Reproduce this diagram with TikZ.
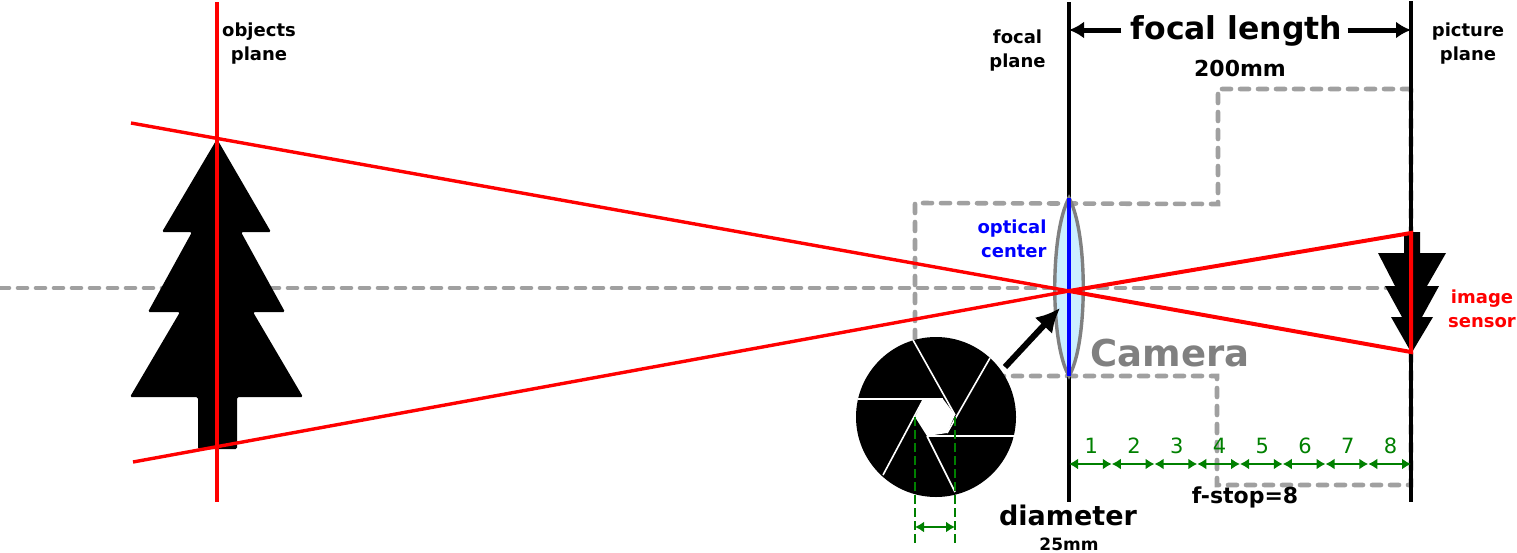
\documentclass[tikz,border=0pt]{standalone}
\usepackage{fontspec}
\setmainfont{DejaVu Sans}
\usetikzlibrary{arrows.meta}
\definecolor{dashgray}{HTML}{A0A0A0}
\definecolor{lensblue}{HTML}{CCEEFF}
\definecolor{scalegreen}{HTML}{008000}
\tikzset{
  lbl/.style={align=center, inner sep=0, font=\fontsize{#1}{24}\selectfont\bfseries},
  camerapath/.style={draw=dashgray, line width=4.6pt, dash pattern=on 9pt off 9pt, line cap=round},
  planeline/.style={draw=black, line width=3.2pt},
  redray/.style={draw=red, line width=3.4pt},
  greenline/.style={draw=scalegreen, line width=2.2pt},
  greentips/.style={{Latex[length=9pt,width=11pt]}-{Latex[length=9pt,width=11pt]}},
  bigtip/.style={-{Latex[length=15pt,width=17pt]}, line width=5pt},
}
\begin{document}
\begin{tikzpicture}[x=1pt,y=-1pt]
\useasboundingbox (0,0) rectangle (1517,552);
% camera outline and axis
\draw[camerapath](0,288)--(1411,288);
\draw[camerapath](1411,89)--(1218,89)--(1218,204)--(915,203)--(915,376)--(1217,376)--(1217,485)--(1411,485)--cycle;
% tree
\fill[rounded corners=1.5pt](217,139)--(271,232)--(241,232)--(285,312)--(253,312)--(303,397)--(237,397)--(237,449)--(198,449)--(198,397)--(130,397)--(180,312)--(148,312)--(192,232)--(162,232)--cycle;
% small tree on the sensor
\fill(1404,232)--(1420,232)--(1420,253)--(1446,253)--(1427,286)--(1439,286)--(1422,317)--(1433,317)--(1411.5,353)--(1391,317)--(1402,317)--(1385,286)--(1395,286)--(1378,253)--(1404,253)--cycle;
% planes
\coordinate(OT)at(217,2);\coordinate(OB)at(217,502);
\coordinate(FT)at(1069,2);\coordinate(FB)at(1069,502);
\coordinate(PT)at(1411,1);\coordinate(PB)at(1411,502);
\draw[planeline](FT)--(FB);
\draw[planeline](PT)--(PB);
\draw[red,line width=3.2pt](OT)--(OB);
% lens
\filldraw[fill=lensblue,draw=gray,line width=3.4pt](1069,198)..controls(1050,232)and(1050,344)..(1069,376)..controls(1088,344)and(1088,232)..(1069,198)--cycle;
\draw[blue,line width=3.4pt](1069,198)--(1069,376);
% rays
\coordinate(C)at(1069,291);
\coordinate(A1)at(131,123);\coordinate(A2)at(1411,352);
\coordinate(B1)at(133,462);\coordinate(B2)at(1411,233);
\draw[redray](A1)--(C);
\draw[redray](B1)--(C);
\draw[redray,line width=4pt](C)--(A2)--(B2)--(C);
% shutter
\fill(936,417)circle(80);
\fill[white](923,400)--(943,399)--(955,415)--(947,433)--(927,436)--(915,417)--cycle;
\draw[white,line width=1.6pt](913,340)--(955,415);
\draw[white,line width=1.6pt](990,358)--(947,433);
\draw[white,line width=1.6pt](1015,436)--(927,436);
\draw[white,line width=1.6pt](955,492)--(927,436);
\draw[white,line width=1.6pt](883,475)--(923,400);
\draw[white,line width=1.6pt](858,399)--(943,399);
\coordinate(S)at(1005,367);\coordinate(L)at(1060,308);
\draw[-{Latex[length=24pt,width=24pt]},line width=6pt](S)--(L);
% aperture
\coordinate(D1)at(915,417);\coordinate(D2)at(955,417);
\coordinate(E1)at(915,545);\coordinate(E2)at(955,545);
\coordinate(G1)at(915,527);\coordinate(G2)at(955,527);
\draw[greenline,dash pattern=on 9pt off 4pt](D1)--(E1);
\draw[greenline,dash pattern=on 9pt off 4pt](D2)--(E2);
\draw[greenline,greentips](G1)--(G2);
% f-stop scale
\foreach \i in {0,...,8}{\coordinate(T\i)at(1069+42.75*\i,464);}
\foreach \i [remember=\i as \j (initially 0)] in {1,...,8}{
  \draw[greenline,greentips](T\j)--(T\i)node[midway,above=9pt,xshift=1pt,inner sep=0,text=scalegreen,font=\fontsize{21}{21}\selectfont]{\i};
}
% labels
\node[lbl=18](objects)at(259,44){objects\\plane};
\node[lbl=18](focal)at(1017.5,50.5){focal\\plane};
\node[lbl=18](picture)at(1468,44){picture\\plane};
\node[lbl=31.5](fl)at(1236.5,31){focal length};
\draw[bigtip](fl.west)++(-9,-1)coordinate(FL1)--(FT|-FL1);
\draw[bigtip](fl.east)++(5,-1)coordinate(FL2)--(PT|-FL2);
\node[lbl=22](mm)at(1240,68){200mm};
\node[lbl=18,blue,align=right](optical)at(1012,239){optical\\center};
\node[lbl=18,red](sensor)at(1482,309){image\\sensor};
\node[lbl=37,gray](camera)at(1170,353){Camera};
\node[lbl=22](fstop)at(1245,497){f-stop=8};
\node[lbl=27](diameter)at(1068,515){diameter};
\node[lbl=17](dmm)at(1069,544){25mm};
\end{tikzpicture}
\end{document}
